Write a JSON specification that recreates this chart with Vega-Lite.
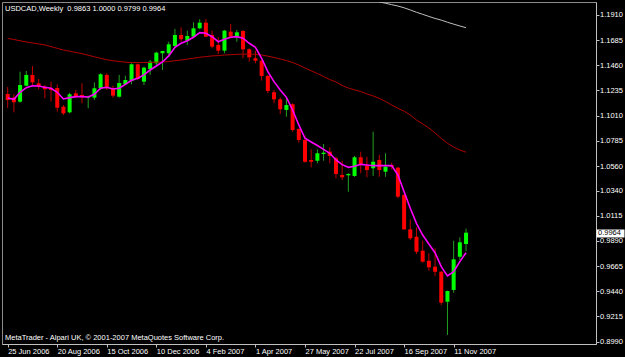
{
  "$schema": "https://vega.github.io/schema/vega-lite/v6.json",
  "width": 594,
  "height": 342,
  "autosize": {"type": "none"},
  "padding": {"left": 2, "top": 2, "right": 29, "bottom": 13},
  "background": "#000000",
  "title": {"text": "USDCAD,Weekly\u00a0\u00a00.9863 1.0000 0.9799 0.9964", "anchor": "start", "frame": "group", "orient": "top", "offset": -8.5, "baseline": "alphabetic", "dx": 3, "dy": 8, "font": "Liberation Sans", "fontSize": 7.5, "fontWeight": "normal", "color": "#ffffff"},
  "config": {"view": {"stroke": "#8c8c8c", "strokeWidth": 1, "fill": "#000000"}, "font": "Liberation Sans"},
  "data": {"values": [
    {"week":"2006-06-25","open":1.1204,"high":1.1266,"low":1.1079,"close":1.1150,"ma_fast":1.1168,"ma_slow":1.1700,"ma_long":null},
    {"week":"2006-07-02","open":1.1171,"high":1.1201,"low":1.1040,"close":1.1130,"ma_fast":1.1156,"ma_slow":1.1691,"ma_long":null},
    {"week":"2006-07-09","open":1.1135,"high":1.1403,"low":1.1126,"close":1.1284,"ma_fast":1.1219,"ma_slow":1.1679,"ma_long":null},
    {"week":"2006-07-16","open":1.1278,"high":1.1409,"low":1.1275,"close":1.1374,"ma_fast":1.1260,"ma_slow":1.1669,"ma_long":null},
    {"week":"2006-07-23","open":1.1374,"high":1.1454,"low":1.1284,"close":1.1308,"ma_fast":1.1278,"ma_slow":1.1660,"ma_long":null},
    {"week":"2006-07-30","open":1.1299,"high":1.1338,"low":1.1246,"close":1.1269,"ma_fast":1.1275,"ma_slow":1.1651,"ma_long":null},
    {"week":"2006-08-06","open":1.1269,"high":1.1284,"low":1.1165,"close":1.1246,"ma_fast":1.1264,"ma_slow":1.1642,"ma_long":null},
    {"week":"2006-08-13","open":1.1255,"high":1.1314,"low":1.1135,"close":1.1240,"ma_fast":1.1255,"ma_slow":1.1627,"ma_long":null},
    {"week":"2006-08-20","open":1.1257,"high":1.1290,"low":1.1046,"close":1.1081,"ma_fast":1.1219,"ma_slow":1.1612,"ma_long":null},
    {"week":"2006-08-27","open":1.1090,"high":1.1105,"low":1.1016,"close":1.1031,"ma_fast":1.1159,"ma_slow":1.1597,"ma_long":null},
    {"week":"2006-09-03","open":1.1040,"high":1.1215,"low":1.1031,"close":1.1201,"ma_fast":1.1171,"ma_slow":1.1586,"ma_long":null},
    {"week":"2006-09-10","open":1.1210,"high":1.1240,"low":1.1165,"close":1.1177,"ma_fast":1.1180,"ma_slow":1.1575,"ma_long":null},
    {"week":"2006-09-17","open":1.1195,"high":1.1299,"low":1.1121,"close":1.1174,"ma_fast":1.1180,"ma_slow":1.1564,"ma_long":null},
    {"week":"2006-09-24","open":1.1171,"high":1.1189,"low":1.1076,"close":1.1183,"ma_fast":1.1177,"ma_slow":1.1551,"ma_long":null},
    {"week":"2006-10-01","open":1.1171,"high":1.1308,"low":1.1150,"close":1.1255,"ma_fast":1.1201,"ma_slow":1.1536,"ma_long":null},
    {"week":"2006-10-08","open":1.1255,"high":1.1389,"low":1.1240,"close":1.1380,"ma_fast":1.1255,"ma_slow":1.1523,"ma_long":null},
    {"week":"2006-10-15","open":1.1374,"high":1.1389,"low":1.1240,"close":1.1255,"ma_fast":1.1264,"ma_slow":1.1510,"ma_long":null},
    {"week":"2006-10-22","open":1.1255,"high":1.1278,"low":1.1171,"close":1.1189,"ma_fast":1.1248,"ma_slow":1.1501,"ma_long":null},
    {"week":"2006-10-29","open":1.1180,"high":1.1374,"low":1.1171,"close":1.1302,"ma_fast":1.1255,"ma_slow":1.1494,"ma_long":null},
    {"week":"2006-11-05","open":1.1290,"high":1.1367,"low":1.1284,"close":1.1329,"ma_fast":1.1290,"ma_slow":1.1488,"ma_long":null},
    {"week":"2006-11-12","open":1.1320,"high":1.1478,"low":1.1290,"close":1.1469,"ma_fast":1.1326,"ma_slow":1.1485,"ma_long":null},
    {"week":"2006-11-19","open":1.1469,"high":1.1478,"low":1.1329,"close":1.1338,"ma_fast":1.1344,"ma_slow":1.1485,"ma_long":null},
    {"week":"2006-11-26","open":1.1314,"high":1.1448,"low":1.1284,"close":1.1439,"ma_fast":1.1374,"ma_slow":1.1485,"ma_long":null},
    {"week":"2006-12-03","open":1.1425,"high":1.1508,"low":1.1374,"close":1.1493,"ma_fast":1.1418,"ma_slow":1.1486,"ma_long":null},
    {"week":"2006-12-10","open":1.1478,"high":1.1582,"low":1.1454,"close":1.1573,"ma_fast":1.1454,"ma_slow":1.1488,"ma_long":null},
    {"week":"2006-12-17","open":1.1568,"high":1.1590,"low":1.1418,"close":1.1588,"ma_fast":1.1490,"ma_slow":1.1490,"ma_long":null},
    {"week":"2006-12-24","open":1.1568,"high":1.1671,"low":1.1552,"close":1.1648,"ma_fast":1.1544,"ma_slow":1.1494,"ma_long":null},
    {"week":"2006-12-31","open":1.1633,"high":1.1785,"low":1.1621,"close":1.1731,"ma_fast":1.1621,"ma_slow":1.1501,"ma_long":null},
    {"week":"2007-01-07","open":1.1731,"high":1.1800,"low":1.1671,"close":1.1693,"ma_fast":1.1657,"ma_slow":1.1508,"ma_long":null},
    {"week":"2007-01-14","open":1.1680,"high":1.1770,"low":1.1642,"close":1.1722,"ma_fast":1.1680,"ma_slow":1.1515,"ma_long":null},
    {"week":"2007-01-21","open":1.1716,"high":1.1845,"low":1.1711,"close":1.1791,"ma_fast":1.1711,"ma_slow":1.1524,"ma_long":null},
    {"week":"2007-01-28","open":1.1791,"high":1.1872,"low":1.1782,"close":1.1841,"ma_fast":1.1752,"ma_slow":1.1532,"ma_long":null},
    {"week":"2007-02-04","open":1.1841,"high":1.1874,"low":1.1711,"close":1.1716,"ma_fast":1.1746,"ma_slow":1.1538,"ma_long":null},
    {"week":"2007-02-11","open":1.1731,"high":1.1770,"low":1.1612,"close":1.1627,"ma_fast":1.1716,"ma_slow":1.1544,"ma_long":null},
    {"week":"2007-02-18","open":1.1642,"high":1.1711,"low":1.1561,"close":1.1591,"ma_fast":1.1671,"ma_slow":1.1547,"ma_long":null},
    {"week":"2007-02-25","open":1.1591,"high":1.1776,"low":1.1568,"close":1.1770,"ma_fast":1.1693,"ma_slow":1.1552,"ma_long":null},
    {"week":"2007-03-04","open":1.1761,"high":1.1830,"low":1.1702,"close":1.1716,"ma_fast":1.1711,"ma_slow":1.1555,"ma_long":null},
    {"week":"2007-03-11","open":1.1716,"high":1.1776,"low":1.1671,"close":1.1755,"ma_fast":1.1716,"ma_slow":1.1558,"ma_long":null},
    {"week":"2007-03-18","open":1.1767,"high":1.1776,"low":1.1523,"close":1.1603,"ma_fast":1.1702,"ma_slow":1.1560,"ma_long":null},
    {"week":"2007-03-25","open":1.1603,"high":1.1612,"low":1.1493,"close":1.1532,"ma_fast":1.1657,"ma_slow":1.1560,"ma_long":null},
    {"week":"2007-04-01","open":1.1523,"high":1.1591,"low":1.1478,"close":1.1501,"ma_fast":1.1621,"ma_slow":1.1558,"ma_long":null},
    {"week":"2007-04-08","open":1.1501,"high":1.1508,"low":1.1323,"close":1.1365,"ma_fast":1.1523,"ma_slow":1.1552,"ma_long":null},
    {"week":"2007-04-15","open":1.1365,"high":1.1374,"low":1.1210,"close":1.1231,"ma_fast":1.1403,"ma_slow":1.1542,"ma_long":null},
    {"week":"2007-04-22","open":1.1219,"high":1.1240,"low":1.1121,"close":1.1156,"ma_fast":1.1314,"ma_slow":1.1530,"ma_long":null},
    {"week":"2007-04-29","open":1.1156,"high":1.1174,"low":1.1025,"close":1.1067,"ma_fast":1.1240,"ma_slow":1.1517,"ma_long":null},
    {"week":"2007-05-06","open":1.1061,"high":1.1165,"low":1.1001,"close":1.1105,"ma_fast":1.1174,"ma_slow":1.1503,"ma_long":null},
    {"week":"2007-05-13","open":1.1112,"high":1.1121,"low":1.0867,"close":1.0882,"ma_fast":1.1061,"ma_slow":1.1485,"ma_long":null},
    {"week":"2007-05-20","open":1.0891,"high":1.0897,"low":1.0768,"close":1.0793,"ma_fast":1.0927,"ma_slow":1.1463,"ma_long":null},
    {"week":"2007-05-27","open":1.0793,"high":1.0831,"low":1.0590,"close":1.0598,"ma_fast":1.0808,"ma_slow":1.1436,"ma_long":null},
    {"week":"2007-06-03","open":1.0614,"high":1.0709,"low":1.0548,"close":1.0598,"ma_fast":1.0775,"ma_slow":1.1411,"ma_long":null},
    {"week":"2007-06-10","open":1.0607,"high":1.0709,"low":1.0584,"close":1.0674,"ma_fast":1.0743,"ma_slow":1.1387,"ma_long":null},
    {"week":"2007-06-17","open":1.0667,"high":1.0757,"low":1.0607,"close":1.0679,"ma_fast":1.0709,"ma_slow":1.1360,"ma_long":null},
    {"week":"2007-06-24","open":1.0688,"high":1.0727,"low":1.0584,"close":1.0650,"ma_fast":1.0674,"ma_slow":1.1333,"ma_long":null},
    {"week":"2007-07-01","open":1.0629,"high":1.0643,"low":1.0450,"close":1.0489,"ma_fast":1.0614,"ma_slow":1.1311,"ma_long":null},
    {"week":"2007-07-08","open":1.0480,"high":1.0607,"low":1.0435,"close":1.0459,"ma_fast":1.0572,"ma_slow":1.1280,"ma_long":null},
    {"week":"2007-07-15","open":1.0477,"high":1.0495,"low":1.0330,"close":1.0489,"ma_fast":1.0548,"ma_slow":1.1257,"ma_long":null},
    {"week":"2007-07-22","open":1.0471,"high":1.0650,"low":1.0464,"close":1.0638,"ma_fast":1.0557,"ma_slow":1.1240,"ma_long":1.2084},
    {"week":"2007-07-29","open":1.0638,"high":1.0688,"low":1.0495,"close":1.0569,"ma_fast":1.0575,"ma_slow":1.1226,"ma_long":1.2074},
    {"week":"2007-08-05","open":1.0560,"high":1.0643,"low":1.0459,"close":1.0524,"ma_fast":1.0569,"ma_slow":1.1204,"ma_long":1.2062},
    {"week":"2007-08-12","open":1.0540,"high":1.0867,"low":1.0471,"close":1.0598,"ma_fast":1.0563,"ma_slow":1.1186,"ma_long":1.2048},
    {"week":"2007-08-19","open":1.0614,"high":1.0658,"low":1.0464,"close":1.0524,"ma_fast":1.0563,"ma_slow":1.1164,"ma_long":1.2027},
    {"week":"2007-08-26","open":1.0509,"high":1.0674,"low":1.0464,"close":1.0554,"ma_fast":1.0563,"ma_slow":1.1137,"ma_long":1.2015},
    {"week":"2007-09-02","open":1.0569,"high":1.0590,"low":1.0531,"close":1.0554,"ma_fast":1.0563,"ma_slow":1.1105,"ma_long":1.2002},
    {"week":"2007-09-09","open":1.0545,"high":1.0554,"low":1.0271,"close":1.0286,"ma_fast":1.0480,"ma_slow":1.1076,"ma_long":1.1990},
    {"week":"2007-09-16","open":1.0301,"high":1.0310,"low":0.9988,"close":0.9994,"ma_fast":1.0330,"ma_slow":1.1050,"ma_long":1.1974},
    {"week":"2007-09-23","open":0.9994,"high":1.0084,"low":0.9899,"close":0.9914,"ma_fast":1.0182,"ma_slow":1.1016,"ma_long":1.1955},
    {"week":"2007-09-30","open":0.9928,"high":1.0012,"low":0.9773,"close":0.9794,"ma_fast":1.0048,"ma_slow":1.0971,"ma_long":1.1934},
    {"week":"2007-10-07","open":0.9803,"high":0.9892,"low":0.9696,"close":0.9705,"ma_fast":0.9943,"ma_slow":1.0936,"ma_long":1.1916},
    {"week":"2007-10-14","open":0.9713,"high":0.9780,"low":0.9624,"close":0.9654,"ma_fast":0.9863,"ma_slow":1.0900,"ma_long":1.1897},
    {"week":"2007-10-21","open":0.9660,"high":0.9824,"low":0.9577,"close":0.9615,"ma_fast":0.9785,"ma_slow":1.0855,"ma_long":1.1879},
    {"week":"2007-10-28","open":0.9615,"high":0.9620,"low":0.9317,"close":0.9338,"ma_fast":0.9660,"ma_slow":1.0806,"ma_long":1.1864},
    {"week":"2007-11-04","open":0.9347,"high":0.9446,"low":0.9050,"close":0.9443,"ma_fast":0.9577,"ma_slow":1.0763,"ma_long":1.1845},
    {"week":"2007-11-11","open":0.9452,"high":0.9892,"low":0.9427,"close":0.9726,"ma_fast":0.9615,"ma_slow":1.0730,"ma_long":1.1828},
    {"week":"2007-11-18","open":0.9749,"high":0.9923,"low":0.9720,"close":0.9878,"ma_fast":0.9705,"ma_slow":1.0703,"ma_long":1.1812},
    {"week":"2007-11-25","open":0.9863,"high":1.0000,"low":0.9799,"close":0.9964,"ma_fast":0.9785,"ma_slow":1.0683,"ma_long":1.1796}
  ]},
  "encoding": {
    "x": {
      "field": "week", "type": "temporal",
      "scale": {"type": "utc", "domain": [
        {"year": 2006, "month": 6, "date": 24, "hours": 5, "minutes": 20, "utc": true},
        {"year": 2008, "month": 4, "date": 14, "hours": 5, "minutes": 20, "utc": true}
      ]},
      "axis": {
        "values": [
          {"year": 2006, "month": 6, "date": 25, "utc": true},
          {"year": 2006, "month": 8, "date": 20, "utc": true},
          {"year": 2006, "month": 10, "date": 15, "utc": true},
          {"year": 2006, "month": 12, "date": 10, "utc": true},
          {"year": 2007, "month": 2, "date": 4, "utc": true},
          {"year": 2007, "month": 4, "date": 1, "utc": true},
          {"year": 2007, "month": 5, "date": 27, "utc": true},
          {"year": 2007, "month": 7, "date": 22, "utc": true},
          {"year": 2007, "month": 9, "date": 16, "utc": true},
          {"year": 2007, "month": 11, "date": 11, "utc": true}
        ],
        "labelExpr": "utcFormat(datum.value, '%-d %b %Y')",
        "labelAlign": "left", "labelColor": "#ffffff", "labelFont": "Liberation Sans", "labelFontSize": 7.5,
        "labelPadding": 0.5, "labelOverlap": false, "labelFlush": false,
        "tickSize": 3, "tickColor": "#c0c0c0", "domainColor": "#c0c0c0", "grid": false,
        "title": "MetaTrader - Alpari UK, © 2001-2007 MetaQuotes Software Corp.",
        "titleAnchor": "start", "titleAlign": "left", "titleBaseline": "alphabetic",
        "titleX": 2.5, "titleY": -5, "titleColor": "#ffffff", "titleFont": "Liberation Sans",
        "titleFontSize": 7.5, "titleFontWeight": "normal"
      }
    }
  },
  "layer": [
    {
      "mark": {"type": "rule", "strokeWidth": 1, "clip": true},
      "encoding": {
        "y": {"field": "low", "type": "quantitative",
          "scale": {"domain": [0.8969, 1.2026], "nice": false, "zero": false},
          "axis": {"orient": "right", "values": [1.191, 1.1685, 1.146, 1.1235, 1.101, 1.0785, 1.056, 1.034, 1.0115, 0.989, 0.9665, 0.944, 0.9215, 0.899],
            "format": ".4f", "labelColor": "#ffffff", "labelFont": "Liberation Sans", "labelFontSize": 7.5,
            "labelPadding": 0.5, "labelBaseline": "middle", "labelOverlap": false, "labelFlush": false,
            "tickSize": 3, "tickColor": "#c0c0c0", "domainColor": "#c0c0c0", "grid": false, "title": null}},
        "y2": {"field": "high"},
        "color": {"condition": {"test": "datum.close >= datum.open", "value": "#20a020"}, "value": "#c00000"}
      }
    },
    {
      "mark": {"type": "bar", "size": 4, "minBandSize": 1, "clip": true},
      "encoding": {
        "y": {"field": "open", "type": "quantitative",
          "scale": {"domain": [0.8969, 1.2026], "nice": false, "zero": false},
          "axis": {"orient": "right", "values": [0.9964], "format": ".4f", "domain": false,
            "tickSize": 28, "tickWidth": 8, "tickColor": "#ffffff",
            "labelColor": "#000000", "labelFont": "Liberation Sans", "labelFontSize": 7.5,
            "labelPadding": -26.5, "labelBaseline": "middle", "labelFlush": false, "grid": false, "title": null}},
        "y2": {"field": "close"},
        "color": {"condition": {"test": "datum.close >= datum.open", "value": "#00ff00"}, "value": "#ff0000"}
      }
    },
    {
      "mark": {"type": "line", "color": "#b00000", "strokeWidth": 1, "clip": true},
      "encoding": {
        "y": {"field": "ma_slow", "type": "quantitative", "scale": {"domain": [0.8969, 1.2026], "nice": false, "zero": false}, "axis": null}
      }
    },
    {
      "mark": {"type": "line", "color": "#ff00ff", "strokeWidth": 1.6, "clip": true},
      "encoding": {
        "y": {"field": "ma_fast", "type": "quantitative", "scale": {"domain": [0.8969, 1.2026], "nice": false, "zero": false}, "axis": null}
      }
    },
    {
      "mark": {"type": "line", "color": "#c0c0c0", "strokeWidth": 1, "clip": true},
      "encoding": {
        "y": {"field": "ma_long", "type": "quantitative", "scale": {"domain": [0.8969, 1.2026], "nice": false, "zero": false}, "axis": null}
      }
    }
  ],
  "resolve": {"axis": {"y": "independent"}}
}
